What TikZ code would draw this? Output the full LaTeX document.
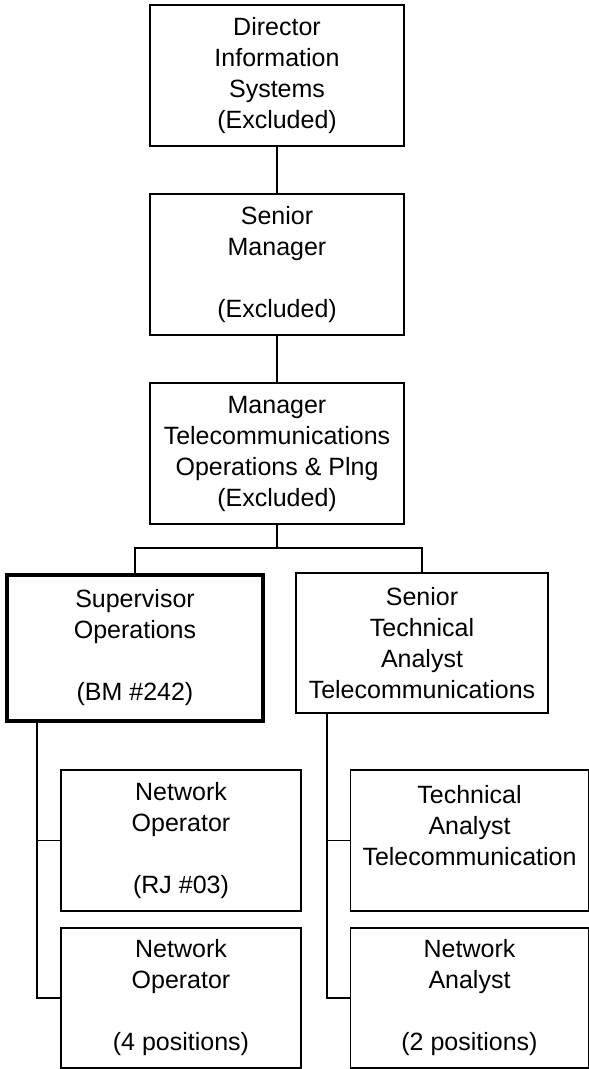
\documentclass[tikz,border=0pt]{standalone}
\usepackage{fontspec}
\setmainfont{Liberation Sans}
\begin{document}
\begin{tikzpicture}[x=1pt,y=-1pt,
  orgbox/.style={draw=black, line width=1.3pt, align=center, inner sep=0pt,
    font=\fontsize{25}{31}\selectfont},
  conn/.style={draw=black, line width=1.2pt}]
\useasboundingbox (0,0) rectangle (589,1069);
\node[orgbox, minimum width=254pt, minimum height=141pt] (dir) at (277,75.5)
  {Director\\Information\\Systems\\(Excluded)};
\node[orgbox, minimum width=254pt, minimum height=141pt] (sm) at (277,264.5)
  {Senior\\Manager\\~\\(Excluded)};
\node[orgbox, minimum width=254pt, minimum height=141pt] (mgr) at (277,453.5)
  {Manager\\Telecommunications\\Operations \& Plng\\(Excluded)};
\node[orgbox, line width=4pt, minimum width=256pt, minimum height=146pt] (sup) at (135,648)
  {Supervisor\\Operations\\~\\(BM \#242)};
\node[orgbox, minimum width=252pt, minimum height=140pt] (stech) at (422,643)
  {Senior\\Technical\\Analyst\\Telecommunications};
\node[orgbox, minimum width=240pt, minimum height=141pt] (no1) at (181,840.5)
  {Network\\Operator\\~\\(RJ \#03)};
\node[orgbox, minimum width=238pt, minimum height=141pt] (ta) at (469.5,840.5)
  {Technical\\Analyst\\Telecommunication\\~};
\node[orgbox, minimum width=240pt, minimum height=140pt] (no2) at (181,998)
  {Network\\Operator\\~\\(4 positions)};
\node[orgbox, minimum width=238pt, minimum height=140pt] (na) at (469.5,998)
  {Network\\Analyst\\~\\(2 positions)};
\coordinate (bus) at (277,548);
\coordinate (lspine) at (37,0);
\coordinate (rspine) at (327,0);
\draw[conn] (dir.south) -- (sm.north);
\draw[conn] (sm.south) -- (mgr.north);
\draw[conn] (mgr.south) -- (bus);
\draw[conn] (sup.north) |- (bus) -| (stech.north);
\draw[conn] (lspine |- sup.south) |- (no2.west);
\draw[conn] (lspine |- no1.west) -- (no1.west);
\draw[conn] (rspine |- stech.south) |- (na.west);
\draw[conn] (rspine |- ta.west) -- (ta.west);
\end{tikzpicture}
\end{document}
